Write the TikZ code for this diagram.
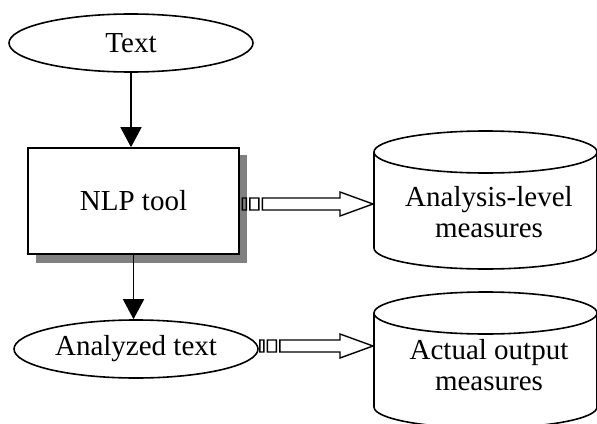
\documentclass[tikz,border=0pt]{standalone}
\usepackage{fontspec}
\setmainfont{Liberation Serif}
\usetikzlibrary{arrows.meta,shapes.geometric,calc}

% Word-style striped block arrow from #1 to #2 (same height)
\newcommand\stripedarrow[2]{%
  \draw[blockline] let \p1=(#1), \p2=(#2) in
    (\x1,\y1-6pt) rectangle (\x1+4pt,\y1+6pt)
    (\x1+7.5pt,\y1-6pt) rectangle (\x1+16.5pt,\y1+6pt)
    (\x1+20pt,\y1+6pt) -- (\x2-34pt,\y1+6pt) -- (\x2-34pt,\y1+12pt)
    -- (\x2-1pt,\y1) -- (\x2-34pt,\y1-12pt) -- (\x2-34pt,\y1-6pt)
    -- (\x1+20pt,\y1-6pt) -- cycle;}

\begin{document}
\begin{tikzpicture}[x=1pt,y=-1pt,
  every node/.style={font=\fontsize{29}{31}\selectfont, inner sep=0pt},
  outline/.style={line width=1.6pt},
  flow/.style={line width=1.5pt, -{Triangle[length=20pt,width=21pt]}},
  blockline/.style={line width=1.4pt, line join=miter},
  oval/.style={ellipse, draw, outline, minimum width=244pt, minimum height=58pt},
  shadowbox/.style={fill=black!50}]
\useasboundingbox (0,0) rectangle (597,423);

% ovals
\node[oval] (txt) at (131,43) {Text};
\node[oval] (ana) at (136,349) {Analyzed text};

% process box with drop shadow
\fill[shadowbox] (36,155) rectangle (247,263);
\node[draw, outline, fill=white, minimum width=211pt, minimum height=106pt]
  (nlp) at (133.5,201) {NLP tool};

% flow arrows
\draw[flow] (txt.south) -- (txt.south |- nlp.north);
\draw[flow] (nlp.south) -- (nlp.south |- ana.north);

% data stores
\coordinate (c1top) at (485.5,152);
\coordinate (c2top) at (485.5,313);
\draw[outline] (c1top) ellipse [x radius=111.5, y radius=21];
\draw[outline] (c1top) ++(-111.5,0) coordinate (c1w) -- ++(0,96)
  arc [start angle=180, end angle=0, x radius=111.5, y radius=21] -- ++(0,-96);
\draw[outline] (c2top) ellipse [x radius=111.5, y radius=21];
\draw[outline] (c2top) ++(-111.5,0) coordinate (c2w) -- ++(0,94)
  arc [start angle=180, end angle=0, x radius=111.5, y radius=21] -- ++(0,-94);

\node[align=center] (m1) at (489,212.5) {Analysis-level\\measures};
\node[align=center] (m2) at (489,365) {Actual output\\measures};

% striped block arrows
\coordinate (s1) at ([shift={(2.5,3)}]nlp.east);
\coordinate (s2) at ([shift={(1,-3)}]ana.east);
\stripedarrow{s1}{s1 -| c1w}
\stripedarrow{s2}{s2 -| c2w}
\end{tikzpicture}
\end{document}
